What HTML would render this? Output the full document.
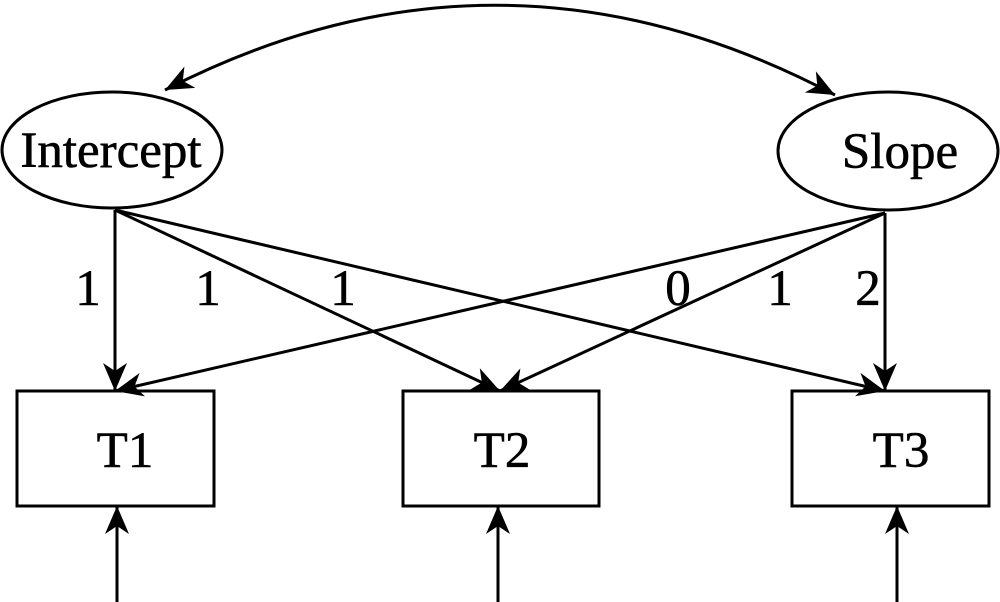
<!DOCTYPE html>
<html><head><style>html,body{margin:0;padding:0;background:#fff;}svg{display:block}</style></head>
<body>
<svg width="1000" height="602" viewBox="0 0 1000 602" xmlns="http://www.w3.org/2000/svg">
<defs>
<marker id="a" markerWidth="30" markerHeight="24" refX="28" refY="12" orient="auto" markerUnits="userSpaceOnUse">
<path d="M0,0 L28,12 L0,24 L8,12 Z" fill="#000"/>
</marker>
<marker id="s" markerWidth="30" markerHeight="24" refX="2" refY="12" orient="auto" markerUnits="userSpaceOnUse">
<path d="M30,0 L2,12 L30,24 L22,12 Z" fill="#000"/>
</marker>
</defs>
<g fill="none" stroke="#000" stroke-width="3">
<ellipse cx="112" cy="150" rx="110" ry="58"/>
<ellipse cx="888" cy="151" rx="110" ry="59"/>
<rect x="17" y="391" width="197" height="115"/>
<rect x="403" y="391" width="196" height="115"/>
<rect x="792" y="391" width="197" height="115"/>
<path d="M165,90 Q500,-82 835,95" marker-start="url(#s)" marker-end="url(#a)"/>
<line x1="115" y1="210" x2="115" y2="391" marker-end="url(#a)"/>
<line x1="115" y1="210" x2="500" y2="391" marker-end="url(#a)"/>
<line x1="115" y1="210" x2="885" y2="391" marker-end="url(#a)"/>
<line x1="885" y1="213" x2="115" y2="391" marker-end="url(#a)"/>
<line x1="885" y1="213" x2="500" y2="391" marker-end="url(#a)"/>
<line x1="885" y1="213" x2="885" y2="391" marker-end="url(#a)"/>
<line x1="117" y1="602" x2="117" y2="506" marker-end="url(#a)"/>
<line x1="498" y1="602" x2="498" y2="506" marker-end="url(#a)"/>
<line x1="897" y1="602" x2="897" y2="506" marker-end="url(#a)"/>
</g>
<g font-family="Liberation Serif, serif" font-size="51" fill="#000" text-anchor="middle" stroke="#000" stroke-width="0.6">
<text x="111" y="167">Intercept</text>
<text x="900" y="168">Slope</text>
<text x="125" y="467">T1</text>
<text x="502" y="467">T2</text>
<text x="901" y="467">T3</text>
<text x="88" y="305">1</text>
<text x="208" y="305">1</text>
<text x="343" y="305">1</text>
<text x="678" y="305">0</text>
<text x="780" y="305">1</text>
<text x="868" y="305">2</text>
</g>
</svg>
</body></html>
